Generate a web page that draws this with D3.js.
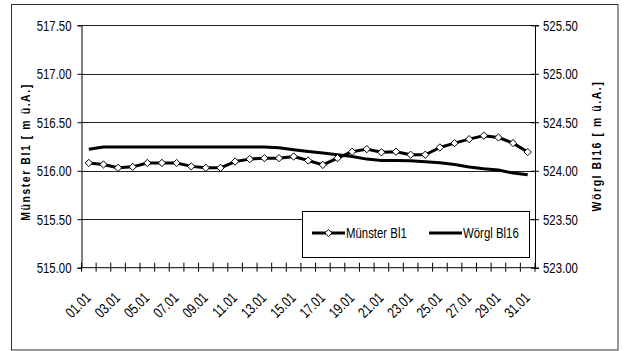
<!DOCTYPE html>
<html>
<head>
<meta charset="utf-8">
<script src="https://cdn.jsdelivr.net/npm/d3@7"></script>
<style>
  html, body { margin: 0; padding: 0; background: #fff; }
  svg text { font-family: "Liberation Sans", Arial, sans-serif; fill: #000; }
</style>
</head>
<body>
<svg id="chart" width="626" height="351"></svg>
<script>
// Days of January
const days = ["01.01","02.01","03.01","04.01","05.01","06.01","07.01","08.01","09.01","10.01",
  "11.01","12.01","13.01","14.01","15.01","16.01","17.01","18.01","19.01","20.01",
  "21.01","22.01","23.01","24.01","25.01","26.01","27.01","28.01","29.01","30.01","31.01"];

// Groundwater level Münster Bl1 [m ü.A.] (left axis)
const muensterBl1 = [516.08,516.065,516.03,516.04,516.08,516.08,516.08,516.045,516.03,516.03,
  516.095,516.12,516.13,516.13,516.147,516.105,516.06,516.13,516.196,516.223,
  516.19,516.196,516.165,516.165,516.24,516.285,516.326,516.362,516.343,516.285,516.193];

// Groundwater level Wörgl Bl16 [m ü.A.] (right axis)
const woerglBl16 = [524.222,524.245,524.245,524.245,524.245,524.245,524.245,524.245,524.245,524.245,
  524.245,524.245,524.245,524.237,524.217,524.199,524.182,524.165,524.147,524.12,
  524.106,524.106,524.103,524.093,524.082,524.065,524.038,524.02,524.007,523.976,523.959];

const leftTicks = [515.0, 515.5, 516.0, 516.5, 517.0, 517.5];
const rightTicks = [523.0, 523.5, 524.0, 524.5, 525.0, 525.5];
const seriesNames = ["Münster Bl1", "Wörgl Bl16"];
const leftTitle = "Münster Bl1 [ m ü.A.]";
const rightTitle = "Wörgl Bl16 [ m ü.A.]";

// Narrow lettering: regular glyphs compressed horizontally
const NARROW = 0.76;
const FS = 15;

const svg = d3.select("#chart");
const plot = { left: 81.5, right: 535, top: 25.3, bottom: 267.7 };

// Outer chart frame
svg.append("rect")
  .attr("x", 11.5).attr("y", 4.5).attr("width", 606.5).attr("height", 345.5)
  .attr("fill", "#fff").attr("stroke", "#333").attr("stroke-width", 1);

const x = d3.scaleBand().domain(days).range([plot.left, plot.right]).padding(0);
const cx = d => x(d) + x.bandwidth() / 2;
const yL = d3.scaleLinear().domain([515, 517.5]).range([plot.bottom, plot.top]);
const yR = d3.scaleLinear().domain([523, 525.5]).range([plot.bottom, plot.top]);

// Horizontal gridlines
svg.append("g").selectAll("line").data(leftTicks.slice(1)).join("line")
  .attr("x1", plot.left).attr("x2", plot.right)
  .attr("y1", d => Math.round(yL(d)) + 0.5).attr("y2", d => Math.round(yL(d)) + 0.5)
  .attr("stroke", "#222").attr("stroke-width", 1);

const fmt = d3.format(".2f");

// Left axis
const gL = svg.append("g").attr("transform", `translate(${plot.left},0)`)
  .call(d3.axisLeft(yL).tickValues(leftTicks).tickFormat(fmt).tickSize(4).tickPadding(5));
gL.selectAll(".tick text").attr("font-size", FS).attr("x", 0)
  .attr("transform", `translate(-10,0) scale(${NARROW},1)`);

// Right axis with crossing ticks
const gR = svg.append("g").attr("transform", `translate(${plot.right},0)`)
  .call(d3.axisRight(yR).tickValues(rightTicks).tickFormat(fmt).tickSize(4).tickPadding(5));
gR.selectAll(".tick line").attr("x1", -4).attr("x2", 4);
gR.selectAll(".tick text").attr("font-size", FS).attr("x", 0)
  .attr("transform", `translate(8,0) scale(${NARROW},1)`);

[gL, gR].forEach(g => g.select(".domain").attr("stroke", "#000"));
svg.selectAll(".tick line").attr("stroke", "#000");

// Category axis: ticks on category boundaries, labels on every other day
const gX = svg.append("g").attr("transform", `translate(0,${plot.bottom})`);
gX.append("line").attr("x1", plot.left).attr("x2", plot.right).attr("y1", 0).attr("y2", 0)
  .attr("stroke", "#000");
const bounds = days.map(d => x(d)).concat([plot.right]);
gX.selectAll(".xt").data(bounds).join("line").attr("class", "xt")
  .attr("x1", d => d).attr("x2", d => d).attr("y1", -5).attr("y2", 4)
  .attr("stroke", "#000");
gX.selectAll(".xl").data(days.filter((d, i) => i % 2 === 0)).join("text").attr("class", "xl")
  .attr("transform", d => `translate(${cx(d) + 3},31) rotate(-45) scale(${NARROW},1)`)
  .attr("text-anchor", "end").attr("font-size", FS)
  .text(d => d);

// Wörgl Bl16 line (right axis)
svg.append("path").datum(woerglBl16)
  .attr("fill", "none").attr("stroke", "#000").attr("stroke-width", 3)
  .attr("stroke-linejoin", "round")
  .attr("d", d3.line().x((d, i) => cx(days[i])).y(d => yR(d)));

// Münster Bl1 line with diamond markers (left axis)
svg.append("path").datum(muensterBl1)
  .attr("fill", "none").attr("stroke", "#000").attr("stroke-width", 3)
  .attr("stroke-linejoin", "round")
  .attr("d", d3.line().x((d, i) => cx(days[i])).y(d => yL(d)));
const diamond = d3.symbol().type(d3.symbolDiamond2).size(34);
svg.append("g").selectAll("path").data(muensterBl1).join("path")
  .attr("transform", (d, i) => `translate(${cx(days[i])},${yL(d)})`)
  .attr("d", diamond).attr("fill", "#fff").attr("stroke", "#000").attr("stroke-width", 1);

// Legend
const lg = svg.append("g");
lg.append("rect").attr("x", 302.5).attr("y", 211.5).attr("width", 227).attr("height", 46)
  .attr("fill", "#fff").attr("stroke", "#000");
const ly = 233;
lg.append("line").attr("x1", 312).attr("x2", 345).attr("y1", ly).attr("y2", ly)
  .attr("stroke", "#000").attr("stroke-width", 3);
lg.append("path").attr("transform", `translate(328.5,${ly})`).attr("d", diamond)
  .attr("fill", "#fff").attr("stroke", "#000");
lg.append("text").attr("transform", `translate(346,${ly + 5}) scale(${NARROW},1)`)
  .attr("font-size", FS).text(seriesNames[0]);
lg.append("line").attr("x1", 429).attr("x2", 462).attr("y1", ly).attr("y2", ly)
  .attr("stroke", "#000").attr("stroke-width", 3);
lg.append("text").attr("transform", `translate(463,${ly + 5}) scale(${NARROW},1)`)
  .attr("font-size", FS).text(seriesNames[1]);

// Axis titles (bold, letter-spaced, reading upwards)
svg.append("text").attr("transform", `translate(30,152) rotate(-90) scale(0.8,1)`)
  .attr("text-anchor", "middle").attr("font-size", 13).attr("font-weight", "bold")
  .attr("letter-spacing", 2.0).text(leftTitle);
svg.append("text").attr("transform", `translate(601,146) rotate(-90) scale(0.8,1)`)
  .attr("text-anchor", "middle").attr("font-size", 13).attr("font-weight", "bold")
  .attr("letter-spacing", 2.0).text(rightTitle);
</script>
</body>
</html>
